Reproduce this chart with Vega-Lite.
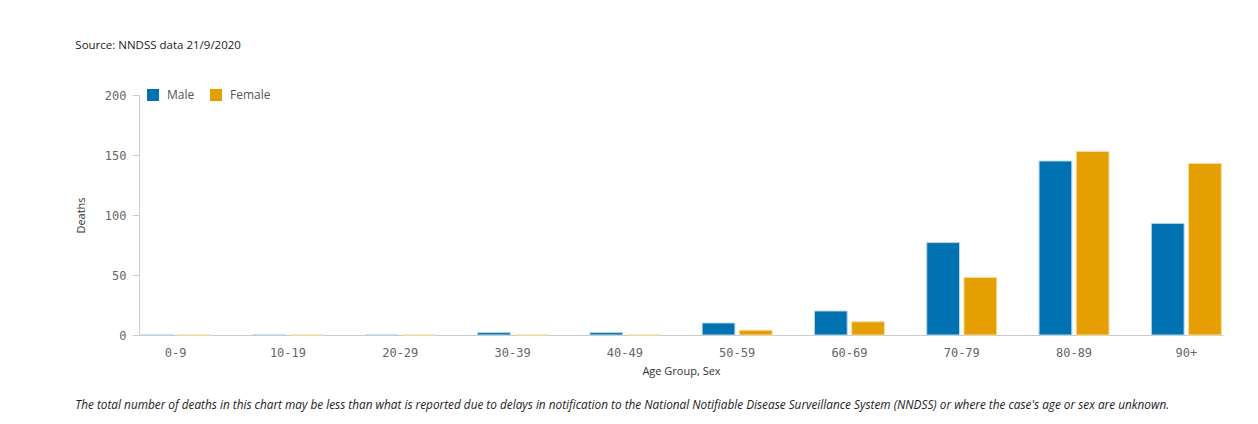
{
  "$schema": "https://vega.github.io/schema/vega-lite/v6.json",
  "background": "white",
  "padding": {"left": 75, "top": 39, "right": 10, "bottom": 10},
  "title": {"text": "Source: NNDSS data 21/9/2020", "anchor": "start", "font": "Open Sans", "fontSize": 11.5, "fontWeight": "normal", "color": "#222", "offset": 38},
  "config": {"view": {"stroke": null}},
  "vconcat": [
    {
      "width": 1084,
      "height": 240,
      "title": {"text": "The total number of deaths in this chart may be less than what is reported due to delays in notification to the National Notifiable Disease Surveillance System (NNDSS) or where the case's age or sex are unknown.", "orient": "bottom", "anchor": "start", "font": "Open Sans", "fontStyle": "italic", "fontSize": 11.8, "fontWeight": "normal", "color": "#222", "offset": 24},
      "data": {"values": [
        {"age": "0-9", "sex": "Male", "deaths": 0},
        {"age": "0-9", "sex": "Female", "deaths": 0},
        {"age": "10-19", "sex": "Male", "deaths": 0},
        {"age": "10-19", "sex": "Female", "deaths": 0},
        {"age": "20-29", "sex": "Male", "deaths": 0},
        {"age": "20-29", "sex": "Female", "deaths": 0},
        {"age": "30-39", "sex": "Male", "deaths": 2},
        {"age": "30-39", "sex": "Female", "deaths": 0},
        {"age": "40-49", "sex": "Male", "deaths": 2},
        {"age": "40-49", "sex": "Female", "deaths": 0},
        {"age": "50-59", "sex": "Male", "deaths": 10},
        {"age": "50-59", "sex": "Female", "deaths": 4},
        {"age": "60-69", "sex": "Male", "deaths": 20},
        {"age": "60-69", "sex": "Female", "deaths": 11},
        {"age": "70-79", "sex": "Male", "deaths": 77},
        {"age": "70-79", "sex": "Female", "deaths": 48},
        {"age": "80-89", "sex": "Male", "deaths": 145},
        {"age": "80-89", "sex": "Female", "deaths": 153},
        {"age": "90+", "sex": "Male", "deaths": 93},
        {"age": "90+", "sex": "Female", "deaths": 143}
      ]},
      "mark": {"type": "bar", "strokeWidth": 1},
      "encoding": {
        "x": {"field": "age", "type": "nominal", "sort": null,
          "scale": {"paddingInner": 0.377, "paddingOuter": 0.015},
          "axis": {"labelAngle": 0, "labelFont": "DejaVu Sans Mono", "labelFontSize": 12, "labelColor": "#666", "ticks": false, "labelPadding": 12, "domainColor": "#ccc", "title": "Age Group, Sex", "titleFont": "Open Sans", "titleFontSize": 11, "titleFontWeight": "normal", "titleColor": "#333", "titlePadding": 7}},
        "xOffset": {"field": "sex", "type": "nominal", "sort": ["Male", "Female"], "scale": {"paddingInner": 0.12}},
        "y": {"field": "deaths", "type": "quantitative", "scale": {"domain": [0, 200]},
          "axis": {"values": [0, 50, 100, 150, 200], "grid": false, "labelFont": "DejaVu Sans Mono", "labelFontSize": 12, "labelColor": "#666", "tickColor": "#ccc", "domainColor": "#ccc", "tickSize": 7, "labelPadding": 6, "title": "Deaths", "titleFont": "Open Sans", "titleFontSize": 11, "titleFontWeight": "normal", "titleColor": "#333", "titlePadding": 18}},
        "color": {"field": "sex", "type": "nominal", "sort": ["Male", "Female"],
          "scale": {"domain": ["Male", "Female"], "range": ["#0071b1", "#e69f00"]},
          "legend": {"title": null, "orient": "none", "legendX": 8, "legendY": -6, "direction": "horizontal", "symbolType": "square", "symbolSize": 144, "symbolStrokeWidth": 0, "labelFont": "Open Sans", "labelFontSize": 12, "labelColor": "#555", "labelOffset": 8, "columnPadding": 15}},
        "stroke": {"field": "sex", "type": "nominal", "sort": ["Male", "Female"],
          "scale": {"domain": ["Male", "Female"], "range": ["#b9d6ea", "#f5dca6"]}, "legend": null}
      }
    }
  ]
}
